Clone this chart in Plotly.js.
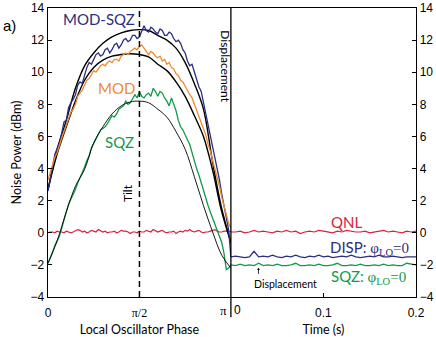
<!DOCTYPE html>
<html>
<head>
<meta charset="utf-8">
<script src="https://cdn.plot.ly/plotly-3.0.1.min.js"></script>
<style>
  html, body { margin: 0; padding: 0; background: #fff; }
  #chart { width: 436px; height: 337px; }
</style>
</head>
<body>
<div id="chart"></div>
<script>
// local oscillator phase, in units of pi
const phase = [0, 0.0125, 0.025, 0.0375, 0.05, 0.0625, 0.075, 0.0875, 0.1, 0.1125,
  0.125, 0.1375, 0.15, 0.1625, 0.175, 0.1875, 0.2, 0.2125, 0.225, 0.2375,
  0.25, 0.2625, 0.275, 0.2875, 0.3, 0.3125, 0.325, 0.3375, 0.35, 0.3625,
  0.375, 0.3875, 0.4, 0.4125, 0.425, 0.4375, 0.45, 0.4625, 0.475, 0.4875,
  0.5, 0.5125, 0.525, 0.5375, 0.55, 0.5625, 0.575, 0.5875, 0.6, 0.6125,
  0.625, 0.6375, 0.65, 0.6625, 0.675, 0.6875, 0.7, 0.7125, 0.725, 0.7375,
  0.75, 0.7625, 0.775, 0.7875, 0.8, 0.8125, 0.825, 0.8375, 0.85, 0.8625,
  0.875, 0.8875, 0.9, 0.9125, 0.925, 0.9375, 0.95, 0.9625, 0.975, 0.9875, 1];

const modSqz = [2.6, 3.5, 4.1, 4.9, 5.3, 5.6, 6.2, 6.9, 7.0, 7.8,
  8.1, 8.3, 8.6, 9.2, 9.4, 9.3, 9.8, 10.3, 10.6, 10.5,
  10.8, 11.1, 11.2, 11.0, 11.1, 11.4, 11.5, 11.2, 11.4, 11.7,
  11.8, 11.5, 11.7, 12.0, 12.1, 11.9, 12.0, 12.3, 12.3, 12.1,
  12.2, 12.6, 12.9, 12.6, 12.5, 12.8, 12.7, 12.5, 12.4, 12.7,
  12.6, 12.3, 12.3, 12.5, 12.4, 12.1, 11.9, 12.0, 11.8, 11.4,
  11.2, 10.7, 10.4, 10.5, 10.0, 9.6, 9.1, 8.8, 8.1, 7.5,
  6.7, 6.1, 5.4, 4.8, 4.0, 3.3, 2.4, 1.6, 0.9, 0.2, -1.5];

const mod = [3.3, 3.8, 4.2, 4.7, 5.0, 5.5, 5.9, 6.3, 6.7, 7.2,
  7.5, 7.7, 8.0, 8.5, 8.7, 8.9, 9.2, 9.5, 9.6, 9.9,
  10.1, 10.0, 10.2, 10.4, 10.5, 10.4, 10.6, 10.7, 10.6, 10.8,
  10.8, 10.7, 11.0, 11.1, 11.2, 11.1, 11.3, 11.4, 11.5, 11.4,
  11.6, 11.7, 11.5, 11.3, 11.1, 11.3, 11.2, 11.0, 10.9, 11.0,
  10.7, 10.8, 10.5, 10.6, 10.3, 10.2, 9.9, 9.8, 9.5, 9.4,
  9.1, 8.8, 8.6, 8.4, 8.0, 7.7, 7.3, 6.9, 6.5, 6.1,
  5.5, 5.1, 4.5, 4.0, 3.4, 2.9, 2.2, 1.6, 1.0, 0.6, 0.3];

const sqz = [-1.9, -1.6, -1.2, -0.8, -0.5, -0.2, 0.3, 0.9, 1.3, 1.8,
  2.1, 2.3, 2.7, 3.1, 3.4, 3.8, 4.1, 4.5, 4.8, 5.3,
  5.6, 5.8, 6.1, 6.4, 6.5, 6.6, 6.8, 7.1, 7.3, 7.2,
  7.4, 7.7, 7.8, 7.9, 8.2, 8.0, 8.1, 8.4, 8.6, 8.4,
  8.8, 8.5, 8.4, 8.6, 8.7, 8.5, 9.0, 8.8, 8.5, 8.8,
  8.7, 8.4, 8.2, 7.9, 8.4, 8.0, 7.6, 7.0, 6.6, 6.4,
  6.1, 5.9, 5.5, 5.0, 4.4, 4.0, 3.6, 3.1, 2.7, 2.2,
  1.7, 1.3, 0.9, 0.5, 0.1, -0.3, -0.6, -1.3, -2.3, -2.2, -2.0];

const qnlPhase = [0.0, 0.05, 0.05, 0.0, 0.1, 0.05, 0.05, 0.0, 0.1, 0.05,
  0.0, 0.05, 0.1, 0.2, 0.15, 0.05, 0.1, 0.0, 0.05, 0.15,
  0.1, 0.05, 0.2, 0.1, 0.05, 0.1, 0.0, 0.05, 0.05, 0.1,
  0.0, 0.05, 0.15, 0.1, 0.1, 0.05, -0.05, 0.05, 0.05, 0.0,
  0.1, 0.05, 0.05, 0.15, 0.1, 0.05, 0.2, 0.1, 0.05, 0.1,
  0.15, 0.05, 0.0, 0.05, 0.05, 0.1, -0.05, 0.05, 0.1, 0.05,
  0.15, 0.1, 0.2, 0.1, 0.05, 0.1, 0.15, 0.05, 0.0, 0.05,
  0.05, 0.1, 0.15, 0.2, 0.1, 0.05, 0.05, 0.1, 0.1, 0.05, 0.1];

// fitted curves
const fitPhase = [0, 0.05, 0.1, 0.15, 0.2, 0.25, 0.3, 0.35, 0.4, 0.45,
  0.5, 0.55, 0.6, 0.65, 0.7, 0.75, 0.8, 0.85, 0.9, 0.95, 1];
const fitModSqz = [2.7, 5.2, 7.0, 9.0, 10.4, 11.2, 11.8, 12.2, 12.45, 12.6,
  12.65, 12.6, 12.3, 12.0, 11.5, 10.6, 9.3, 7.7, 4.4, 1.5, -0.6];
const fitMod = [2.7, 4.9, 6.6, 8.2, 9.5, 10.3, 10.75, 11.0, 11.1, 11.15,
  11.1, 10.95, 10.5, 10.1, 9.4, 8.5, 7.3, 6.0, 3.9, 1.3, -0.6];
const fitSqz = [-1.9, -0.5, 1.3, 2.9, 3.95, 5.6, 6.6, 7.4, 7.9, 8.15,
  8.2, 8.1, 7.7, 7.2, 6.3, 5.2, 3.5, 1.7, 0.05, -1.4, -2.2];

// time traces at phi_LO = 0
const time = [0, 0.005, 0.01, 0.015, 0.02, 0.025, 0.03, 0.035, 0.04, 0.045,
  0.05, 0.055, 0.06, 0.065, 0.07, 0.075, 0.08, 0.085, 0.09, 0.095,
  0.1, 0.105, 0.11, 0.115, 0.12, 0.125, 0.13, 0.135, 0.14, 0.145,
  0.15, 0.155, 0.16, 0.165, 0.17, 0.175, 0.18, 0.185, 0.19, 0.195, 0.2];
const qnlTime = [0.05, 0.05, 0.1, 0.0, 0.05, 0.15, 0.05, 0.1, 0.05, 0.0,
  0.1, 0.05, 0.15, 0.05, 0.1, -0.05, 0.05, 0.1, 0.05, 0.15,
  0.1, 0.05, 0.0, 0.1, 0.05, 0.15, 0.1, 0.05, 0.05, 0.1,
  0.0, 0.05, 0.1, 0.15, 0.05, 0.1, 0.05, 0.0, 0.1, 0.05, 0.1];
const dispTime = [-1.5, -1.45, -1.5, -1.55, -1.5, -1.15, -1.5, -1.45, -1.5, -1.4,
  -1.5, -1.55, -1.45, -1.5, -1.4, -1.5, -1.55, -1.45, -1.5, -1.4,
  -1.5, -1.45, -1.55, -1.5, -1.45, -1.5, -1.4, -1.5, -1.55, -1.5,
  -1.45, -1.5, -1.4, -1.5, -1.5, -1.45, -1.5, -1.55, -1.5, -1.5, -1.5];
const sqzTime = [-2.0, -2.05, -1.95, -2.05, -2.0, -2.05, -1.9, -2.05, -2.0, -2.05,
  -1.95, -2.05, -2.05, -2.0, -1.9, -2.05, -2.05, -2.0, -2.05, -1.95,
  -2.05, -2.05, -2.0, -1.9, -2.05, -2.05, -2.0, -2.05, -1.95, -2.05,
  -2.05, -2.0, -2.05, -1.95, -2.05, -2.0, -2.05, -2.05, -1.9, -1.95, -2.0];

const yTicks = [-4, -2, 0, 2, 4, 6, 8, 10, 12, 14];

const NAVY = '#2b2e80', ORANGE = '#f08a2c', GREEN = '#109a4c', RED = '#d6223c';
const SANS = 'Liberation Sans, Arial, sans-serif';
const LABEL = 'Lato, Noto Sans, sans-serif';
const SERIF = 'Liberation Serif, serif';

function line(x, y, color, width, xa, ya, shape) {
  return {
    x: x, y: y, type: 'scatter', mode: 'lines',
    xaxis: xa, yaxis: ya, hoverinfo: 'skip',
    line: { color: color, width: width, shape: shape || 'linear', smoothing: 1 }
  };
}

const traces = [
  line(phase, qnlPhase, RED, 1.2, 'x', 'y'),
  line(fitPhase, fitModSqz, '#000', 1.4, 'x', 'y', 'spline'),
  line(fitPhase, fitMod, '#000', 1.4, 'x', 'y', 'spline'),
  line(phase, modSqz, NAVY, 1.3, 'x', 'y'),
  line(phase, mod, ORANGE, 1.3, 'x', 'y'),
  line(phase, sqz, GREEN, 1.3, 'x', 'y'),
  line(fitPhase, fitSqz, '#000', 0.9, 'x', 'y', 'spline'),
  line(time, qnlTime, RED, 1.2, 'x2', 'y2'),
  line(time, dispTime, NAVY, 1.3, 'x2', 'y2'),
  line(time, sqzTime, GREEN, 1.3, 'x2', 'y2')
];

const axisCommon = {
  showline: true, linecolor: '#000', linewidth: 1.3,
  ticks: 'inside', ticklen: 4, tickcolor: '#000',
  showgrid: false, zeroline: false,
  tickfont: { family: SANS, size: 12, color: '#000' }
};
const titleFont = { family: LABEL, size: 12.5, color: '#000' };
const tickFont = { family: SANS, size: 12, color: '#000' };

const layout = {
  width: 436, height: 337,
  margin: { l: 48, r: 20, t: 8, b: 40 },
  paper_bgcolor: '#fff', plot_bgcolor: '#fff',
  showlegend: false,
  xaxis: Object.assign({}, axisCommon, {
    domain: [0, 0.497], range: [0, 1], mirror: true, ticklabelstandoff: 4,
    tickvals: [0, 0.5, 1],
    ticktext: ['0', '<span style="font-family:' + SERIF + '">π/2</span>', ''],
    title: { text: 'Local Oscillator Phase', font: titleFont, standoff: 6 }
  }),
  xaxis2: Object.assign({}, axisCommon, {
    domain: [0.497, 1], range: [0, 0.2], anchor: 'y2', mirror: true, ticklabelstandoff: 4,
    tickvals: [0, 0.1, 0.2], ticktext: ['', '0.1', '0.2'],
    title: { text: 'Time (s)', font: titleFont, standoff: 6 }
  }),
  yaxis: Object.assign({}, axisCommon, {
    range: [-4, 14], tickvals: yTicks,
    title: { text: 'Noise Power (dBm)', font: titleFont, standoff: 6 }
  }),
  yaxis2: Object.assign({}, axisCommon, {
    range: [-4, 14], tickvals: yTicks, anchor: 'x2', side: 'right'
  }),
  shapes: [
    { type: 'line', xref: 'x', yref: 'y', x0: 0.5, x1: 0.5, y0: -4, y1: 14,
      line: { color: '#000', width: 1.5, dash: '6px,4px' } },
    { type: 'line', xref: 'paper', yref: 'paper', x0: 0.497, x1: 0.497, y0: -0.07, y1: 1,
      line: { color: '#000', width: 1.3 } }
  ],
  annotations: [
    // tick labels either side of the panel divider
    { text: 'π', xref: 'x', yref: 'paper', x: 1, y: 0, yanchor: 'top', yshift: -4, xshift: -7,
      showarrow: false, font: { family: SERIF, size: 13, color: '#000' } },
    { text: '0', xref: 'x2', yref: 'paper', x: 0, y: 0, yanchor: 'top', yshift: -4, xshift: 7,
      showarrow: false, font: tickFont },
    { text: 'a)', xref: 'paper', yref: 'paper', x: -0.128, y: 0.976, xanchor: 'left', showarrow: false,
      font: { family: SANS, size: 15, color: '#000' } },
    { text: 'MOD-SQZ', xref: 'x', yref: 'y', x: 0.28, y: 13.31, showarrow: false,
      font: { family: LABEL, size: 15, color: NAVY } },
    { text: 'MOD', xref: 'x', yref: 'y', x: 0.373, y: 9.02, showarrow: false,
      font: { family: LABEL, size: 15, color: ORANGE } },
    { text: 'SQZ', xref: 'x', yref: 'y', x: 0.389, y: 5.65, showarrow: false,
      font: { family: LABEL, size: 15, color: GREEN } },
    { text: 'Tilt', xref: 'x', yref: 'y', x: 0.438, y: 2.48, textangle: -90, showarrow: false,
      font: { family: LABEL, size: 12, color: '#000' } },
    { text: 'Displacement', xref: 'x', yref: 'y', x: 0.972, y: 10.38, textangle: 90, showarrow: false,
      font: { family: LABEL, size: 12, color: '#000' } },
    { text: 'QNL', xref: 'x2', yref: 'y2', x: 0.125, y: 0.67, showarrow: false,
      font: { family: LABEL, size: 15, color: RED } },
    { text: 'DISP: <span style="font-family:' + SERIF + '">φ<sub>LO</sub>=0</span>', xref: 'x2', yref: 'y2',
      x: 0.150, y: -0.95, showarrow: false, font: { family: LABEL, size: 15, color: NAVY } },
    { text: 'SQZ: <span style="font-family:' + SERIF + '">φ<sub>LO</sub>=0</span>', xref: 'x2', yref: 'y2',
      x: 0.149, y: -2.75, showarrow: false, font: { family: LABEL, size: 15, color: GREEN } },
    { text: 'Displacement', xref: 'x2', yref: 'y2', x: 0.059, y: -3.19, showarrow: false,
      font: { family: LABEL, size: 10.5, color: '#000' } },
    { text: '', xref: 'x2', yref: 'y2', x: 0.0298, y: -2.2, axref: 'x2', ayref: 'y2',
      ax: 0.0298, ay: -2.65, showarrow: true, arrowhead: 1, arrowsize: 0.7, arrowwidth: 0.8, arrowcolor: '#000' }
  ]
};

Plotly.newPlot('chart', traces, layout, { staticPlot: true });
</script>
</body>
</html>
